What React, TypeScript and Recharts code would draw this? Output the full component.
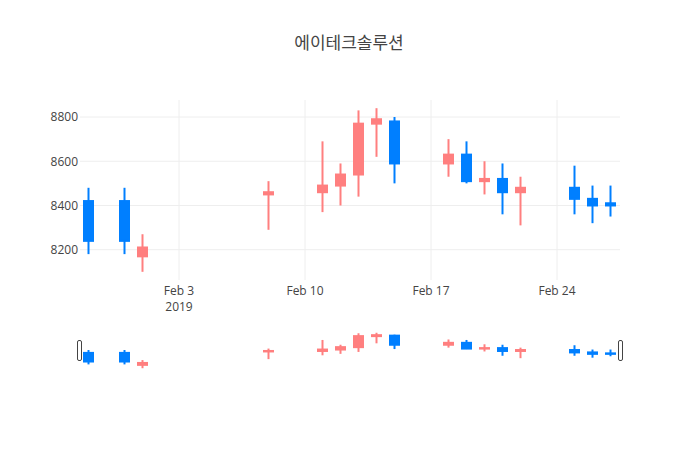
import { ComposedChart, Bar, XAxis, YAxis, CartesianGrid } from "recharts";

const dates = [
  "2019-01-29", "2019-01-31", "2019-02-01", "2019-02-08", "2019-02-11", "2019-02-12",
  "2019-02-13", "2019-02-14", "2019-02-15", "2019-02-18", "2019-02-19", "2019-02-20",
  "2019-02-21", "2019-02-22", "2019-02-25", "2019-02-26", "2019-02-27",
];
const openValues = [8420, 8420, 8170, 8450, 8460, 8490, 8540, 8770, 8780, 8590, 8630, 8510, 8520, 8460, 8480, 8430, 8410];
const highValues = [8480, 8480, 8270, 8510, 8690, 8590, 8830, 8840, 8800, 8700, 8690, 8600, 8590, 8530, 8580, 8490, 8490];
const lowValues = [8180, 8180, 8100, 8290, 8370, 8400, 8440, 8620, 8500, 8530, 8500, 8450, 8360, 8310, 8360, 8320, 8350];
const closeValues = [8240, 8240, 8210, 8460, 8490, 8540, 8770, 8790, 8590, 8630, 8510, 8520, 8460, 8480, 8430, 8400, 8400];

const xTickDates = ["2019-02-03", "2019-02-10", "2019-02-17", "2019-02-24"];
const xTickLabels = ["Feb 3", "Feb 10", "Feb 17", "Feb 24"];
const yTicks = [8200, 8400, 8600, 8800];

const RED = "#ff7f7f";
const BLUE = "#007fff";
const FONT = '"Open Sans", "Noto Sans CJK KR", sans-serif';
const DAY = 86400000;

const toTime = (d: string) => new Date(d + "T00:00:00Z").getTime();

const data = dates.map((d, i) => ({
  t: toTime(d),
  o: openValues[i],
  h: highValues[i],
  l: lowValues[i],
  c: closeValues[i],
  range: [lowValues[i], highValues[i]],
}));

const xTicks = xTickDates.map(toTime);
const xDomain = [toTime(dates[0]) - DAY / 2, toTime(dates[dates.length - 1]) + DAY / 2];
const yDomain = [8063, 8877];

// grid only at the real ticks, through the axis scales
const gridY = ({ yAxis, offset }: any) =>
  yTicks.map((v) =>
    typeof yAxis?.scale === "function"
      ? yAxis.scale(v)
      : offset.top + ((yDomain[1] - v) / (yDomain[1] - yDomain[0])) * offset.height
  );
const gridX = ({ xAxis, offset }: any) =>
  xTicks.map((t) =>
    typeof xAxis?.scale === "function"
      ? xAxis.scale(t)
      : offset.left + ((t - xDomain[0]) / (xDomain[1] - xDomain[0])) * offset.width
  );

function Candle(props: any) {
  const { x, y, width, height, payload } = props;
  const { o, h, l, c } = payload;
  const color = c >= o ? RED : BLUE;
  const top = Math.min(y, y + height);
  const bot = Math.max(y, y + height);
  const k = (bot - top) / (h - l);
  const bodyTop = top + (h - Math.max(o, c)) * k;
  const bodyBot = top + (h - Math.min(o, c)) * k;
  const cx = x + width / 2;
  return (
    <g>
      <line x1={cx} x2={cx} y1={top} y2={bot} stroke={color} strokeWidth={2} />
      <rect
        x={x + 1}
        y={bodyTop}
        width={width - 2}
        height={Math.max(bodyBot - bodyTop, 0.01)}
        fill={color}
        stroke={color}
        strokeWidth={2}
      />
    </g>
  );
}

function DateTick(props: any) {
  const { x, y, payload } = props;
  const idx = xTicks.indexOf(payload.value);
  return (
    <text x={x} y={y} textAnchor="middle" fill="#444" fontSize={12} fontFamily={FONT}>
      <tspan x={x} dy={10}>{xTickLabels[idx]}</tspan>
      {idx === 0 && (
        <tspan x={x} dy={16}>2019</tspan>
      )}
    </text>
  );
}

function Handle({ left }: { left: number }) {
  return (
    <div
      style={{
        position: "absolute",
        left,
        top: 340,
        width: 3,
        height: 19,
        border: "1px solid #444",
        borderRadius: 2,
        background: "#fff",
      }}
    />
  );
}

export default function App() {
  return (
    <div style={{ position: "absolute", left: 0, top: 0, width: 700, height: 450, background: "#fff" }}>
      <div
        style={{
          position: "absolute",
          top: 33,
          left: 0,
          width: 698,
          textAlign: "center",
          fontFamily: FONT,
          fontSize: 17,
          lineHeight: "20px",
          color: "#444",
        }}
      >
        에이테크솔루션
      </div>
      <div style={{ position: "absolute", left: 0, top: 0 }}>
        <ComposedChart
          width={700}
          height={320}
          data={data}
          margin={{ top: 100, right: 80, bottom: 0, left: 30 }}
        >
          <CartesianGrid
            stroke="#eee"
            horizontalCoordinatesGenerator={gridY}
            verticalCoordinatesGenerator={gridX}
          />
          <XAxis
            dataKey="t"
            type="number"
            scale="linear"
            domain={xDomain}
            allowDataOverflow
            ticks={xTicks}
            tick={<DateTick />}
            tickSize={0}
            tickMargin={5}
            axisLine={false}
            tickLine={false}
            height={40}
          />
          <YAxis
            type="number"
            domain={yDomain}
            allowDataOverflow
            ticks={yTicks}
            tick={{ fontSize: 12, fill: "#444", fontFamily: FONT }}
            tickSize={0}
            tickMargin={2}
            axisLine={false}
            tickLine={false}
            width={50}
          />
          <Bar dataKey="range" barSize={11} shape={<Candle />} isAnimationActive={false} />
        </ComposedChart>
      </div>
      <div style={{ position: "absolute", left: 0, top: 331 }}>
        <ComposedChart
          width={700}
          height={39}
          data={data}
          margin={{ top: 0, right: 80, bottom: 0, left: 80 }}
        >
          <XAxis dataKey="t" type="number" scale="linear" domain={xDomain} allowDataOverflow hide />
          <YAxis type="number" domain={yDomain} allowDataOverflow hide />
          <Bar dataKey="range" barSize={11} shape={<Candle />} isAnimationActive={false} />
        </ComposedChart>
      </div>
      <Handle left={77} />
      <Handle left={618} />
    </div>
  );
}
